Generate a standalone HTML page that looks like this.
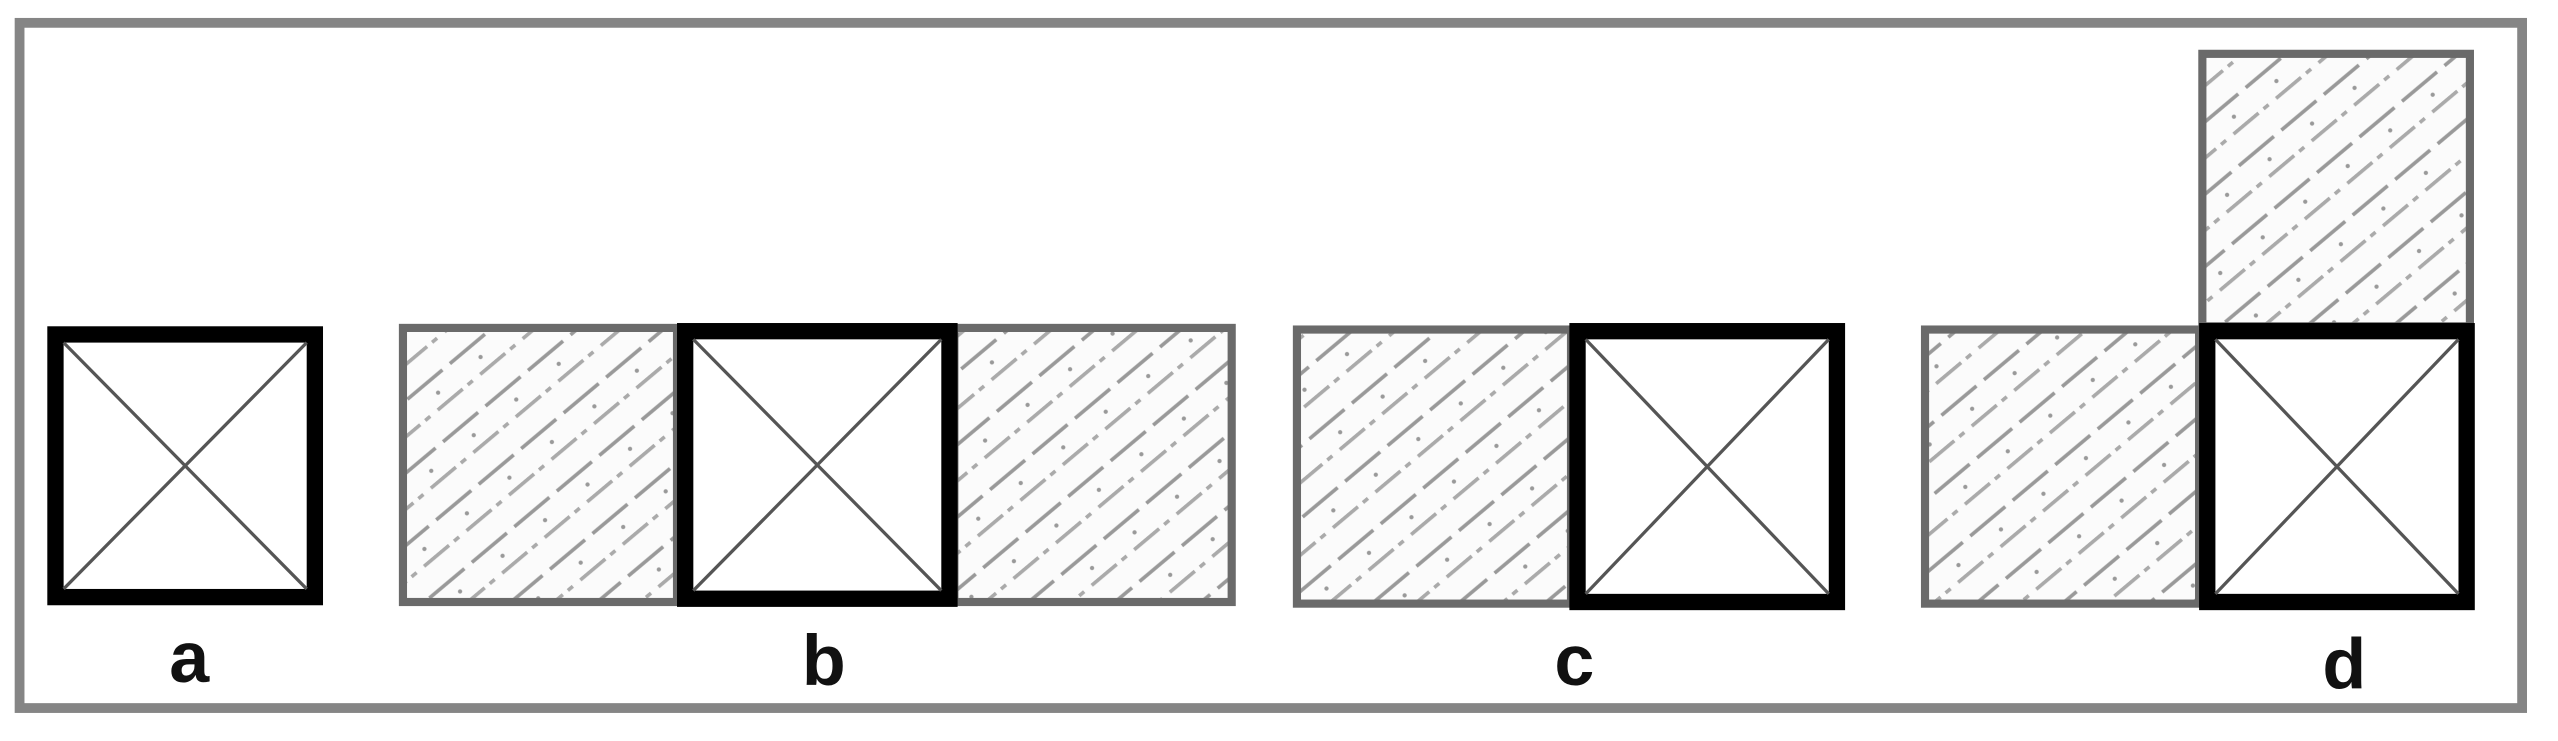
<!DOCTYPE html>
<html><head><style>
html,body{margin:0;padding:0;background:#fff;}
svg{display:block}
</style></head><body>
<svg width="2558" height="741" viewBox="0 0 1568 454.2" preserveAspectRatio="none" xmlns="http://www.w3.org/2000/svg">
<defs>
<pattern id="h" width="34" height="34" patternUnits="userSpaceOnUse" patternTransform="rotate(-40)">
<rect width="34" height="34" fill="#fbfbfb"/>
<line x1="0" y1="8" x2="34" y2="8" stroke="#999" stroke-width="2.2" stroke-dasharray="28 6"/>
<line x1="0" y1="25" x2="34" y2="25" stroke="#aaa" stroke-width="2.2" stroke-dasharray="4 6 20 4"/>
<circle cx="17" cy="17" r="1.3" fill="#999"/>
</pattern>
</defs>
<rect x="0" y="0" width="1568" height="455" fill="#fff"/>
<rect x="12" y="14" width="1534" height="420" fill="none" stroke="#858585" stroke-width="6"/>
<g stroke="#6a6a6a" stroke-width="5" fill="url(#h)">
<rect x="247" y="201" width="168" height="168"/>
<rect x="585" y="201" width="170" height="168"/>
<rect x="795" y="202" width="168" height="168"/>
<rect x="1180" y="202" width="168" height="168"/>
<rect x="1350" y="33" width="164" height="167"/>
</g>
<g fill="#fff" stroke="#000" stroke-width="10">
<rect x="34" y="205" width="159" height="161"/>
<rect x="420" y="203" width="162" height="164"/>
<rect x="967" y="203" width="159" height="166"/>
<rect x="1353" y="203" width="159" height="166"/>
</g>
<g stroke="#555" stroke-width="2">
<line x1="39" y1="210" x2="188" y2="361"/><line x1="188" y1="210" x2="39" y2="361"/>
<line x1="425" y1="208" x2="577" y2="362"/><line x1="577" y1="208" x2="425" y2="362"/>
<line x1="972" y1="208" x2="1121" y2="364"/><line x1="1121" y1="208" x2="972" y2="364"/>
<line x1="1358" y1="208" x2="1507" y2="364"/><line x1="1507" y1="208" x2="1358" y2="364"/>
</g>
<g font-family="Liberation Sans, sans-serif" font-weight="bold" font-size="44" fill="#111" text-anchor="middle">
<text x="116" y="418">a</text>
<text x="505" y="420">b</text>
<text x="965" y="420">c</text>
<text x="1437" y="422">d</text>
</g>
</svg>
</body></html>
